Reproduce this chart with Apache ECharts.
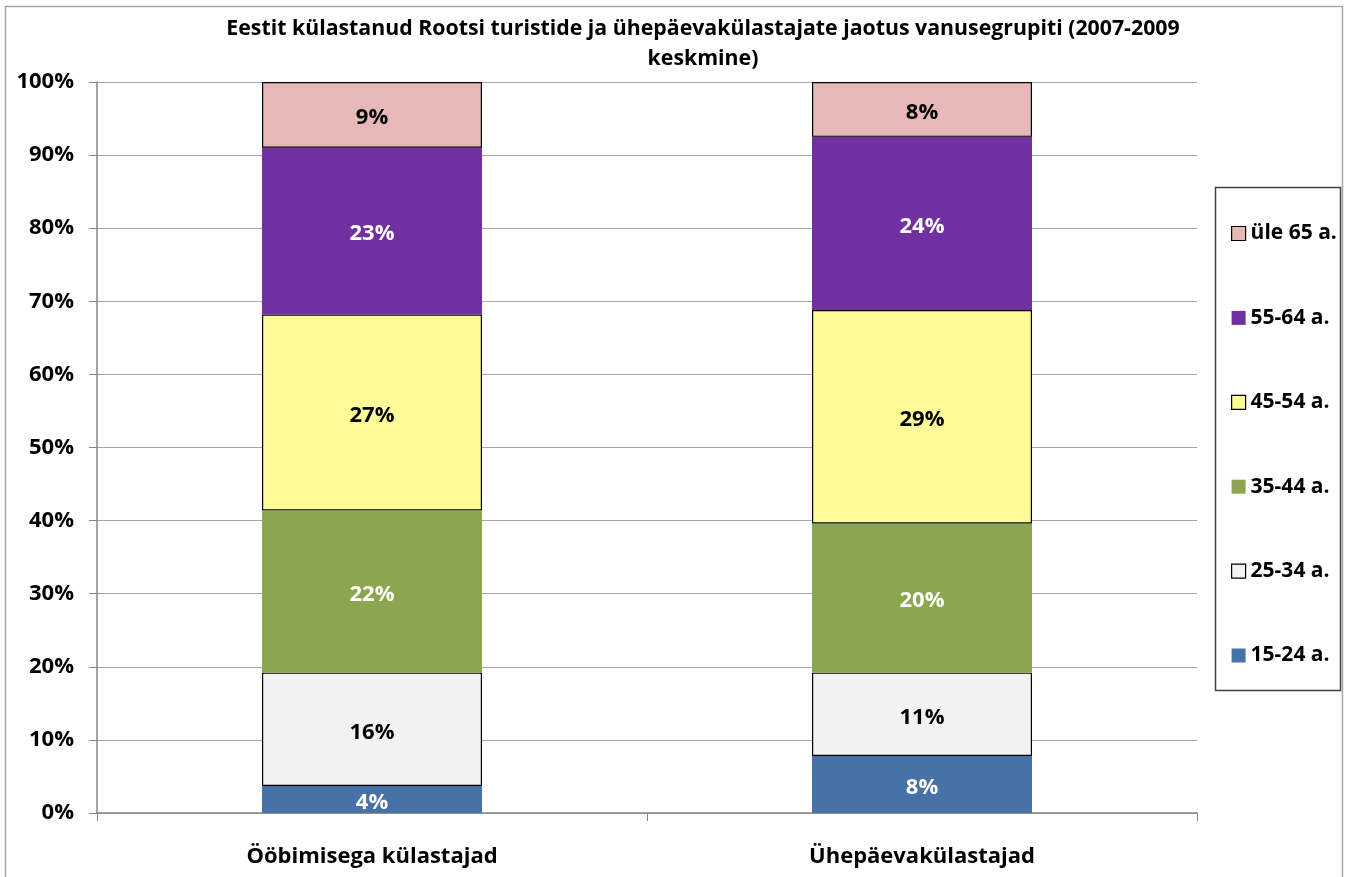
<!DOCTYPE html>
<html>
<head>
<meta charset="utf-8">
<script src="https://cdn.jsdelivr.net/npm/echarts@6/dist/echarts.min.js"></script>
<style>
  html, body { margin: 0; padding: 0; background: #fff; }
  #container { width: 1349px; height: 877px; }
</style>
</head>
<body>
<div id="container"></div>
<script>
var categories = ['Ööbimisega külastajad', 'Ühepäevakülastajad'];

var ageGroups = ['15-24 a.', '25-34 a.', '35-44 a.', '45-54 a.', '55-64 a.', 'üle 65 a.'];

var age15_24 = [3.7, 7.8];
var age25_34 = [15.5, 11.4];
var age35_44 = [22.2, 20.4];
var age45_54 = [26.8, 29.2];
var age55_64 = [22.8, 23.7];
var age65plus = [9.0, 7.5];

var yTicks = [0, 10, 20, 30, 40, 50, 60, 70, 80, 90, 100];

var seriesData = [age15_24, age25_34, age35_44, age45_54, age55_64, age65plus];
var colors = ['#4672A8', '#F2F2F2', '#8AA64E', '#FDFC99', '#7030A0', '#E6B9B8'];
var labelColors = ['#fff', '#000', '#fff', '#000', '#fff', '#000'];
var bordered = [false, true, false, true, false, true];

var font = '"Open Sans", Lato, sans-serif';

var dom = document.getElementById('container');
var myChart = echarts.init(dom, null, { renderer: 'canvas' });

var series = ageGroups.map(function (name, i) {
  return {
    name: name,
    type: 'bar',
    stack: 'total',
    barWidth: '40%',
    data: seriesData[i],
    itemStyle: {
      color: colors[i],
      borderColor: bordered[i] ? '#000' : colors[i],
      borderWidth: bordered[i] ? 1.2 : 0
    },
    label: {
      show: true,
      position: 'inside',
      offset: [0, 3],
      color: labelColors[i],
      fontFamily: font,
      fontWeight: 'bold',
      fontSize: 22,
      formatter: function (p) { return Math.round(p.value) + '%'; }
    }
  };
});

var option = {
  animation: false,
  textStyle: { fontFamily: font },
  title: {
    text: 'Eestit külastanud Rootsi turistide ja ühepäevakülastajate jaotus vanusegrupiti (2007-2009\nkeskmine)',
    left: 698,
    top: 9,
    textAlign: 'center',
    textStyle: {
      fontFamily: font,
      fontWeight: 'bold',
      fontSize: 21.3,
      lineHeight: 30,
      color: '#000'
    }
  },
  legend: {
    orient: 'vertical',
    left: 1226,
    top: 218,
    itemWidth: 14,
    itemHeight: 14,
    itemGap: 63.4,
    itemTextGap: 7,
    icon: 'rect',
    data: ageGroups.slice().reverse().map(function (name) {
      var i = ageGroups.indexOf(name);
      return {
        name: name,
        itemStyle: {
          color: colors[i],
          borderColor: bordered[i] ? '#000' : colors[i],
          borderWidth: bordered[i] ? 1.2 : 0
        }
      };
    }),
    textStyle: {
      fontFamily: font,
      fontWeight: 'bold',
      fontSize: 21,
      lineHeight: 20,
      color: '#000'
    }
  },
  grid: {
    left: 97,
    right: 152,
    top: 82,
    bottom: 64
  },
  xAxis: {
    type: 'category',
    data: categories,
    axisLine: { lineStyle: { color: '#868686', width: 1.5 } },
    axisTick: { show: true, length: 8, lineStyle: { color: '#868686' } },
    axisLabel: {
      margin: 33,
      color: '#000',
      fontFamily: font,
      fontWeight: 'bold',
      fontSize: 22
    }
  },
  yAxis: {
    type: 'value',
    min: yTicks[0],
    max: yTicks[yTicks.length - 1],
    interval: 10,
    axisLine: { show: true, lineStyle: { color: '#868686', width: 1.5 } },
    axisTick: { show: true, length: 8, lineStyle: { color: '#868686' } },
    splitLine: { lineStyle: { color: '#A6A6A6', width: 1.2 } },
    axisLabel: {
      margin: 23,
      color: '#000',
      fontFamily: font,
      fontWeight: 'bold',
      fontSize: 22,
      formatter: '{value}%'
    }
  },
  graphic: [
    {
      type: 'rect',
      shape: { x: 5.5, y: 6.5, width: 1337, height: 885 },
      style: { fill: null, stroke: '#A6A6A6', lineWidth: 1.5 },
      z: -1
    },
    {
      type: 'rect',
      shape: { x: 1215.5, y: 187.5, width: 125, height: 503 },
      style: { fill: null, stroke: '#404040', lineWidth: 1.5 }
    }
  ],
  series: series
};

myChart.setOption(option);

window.addEventListener('resize', myChart.resize);
</script>
</body>
</html>
